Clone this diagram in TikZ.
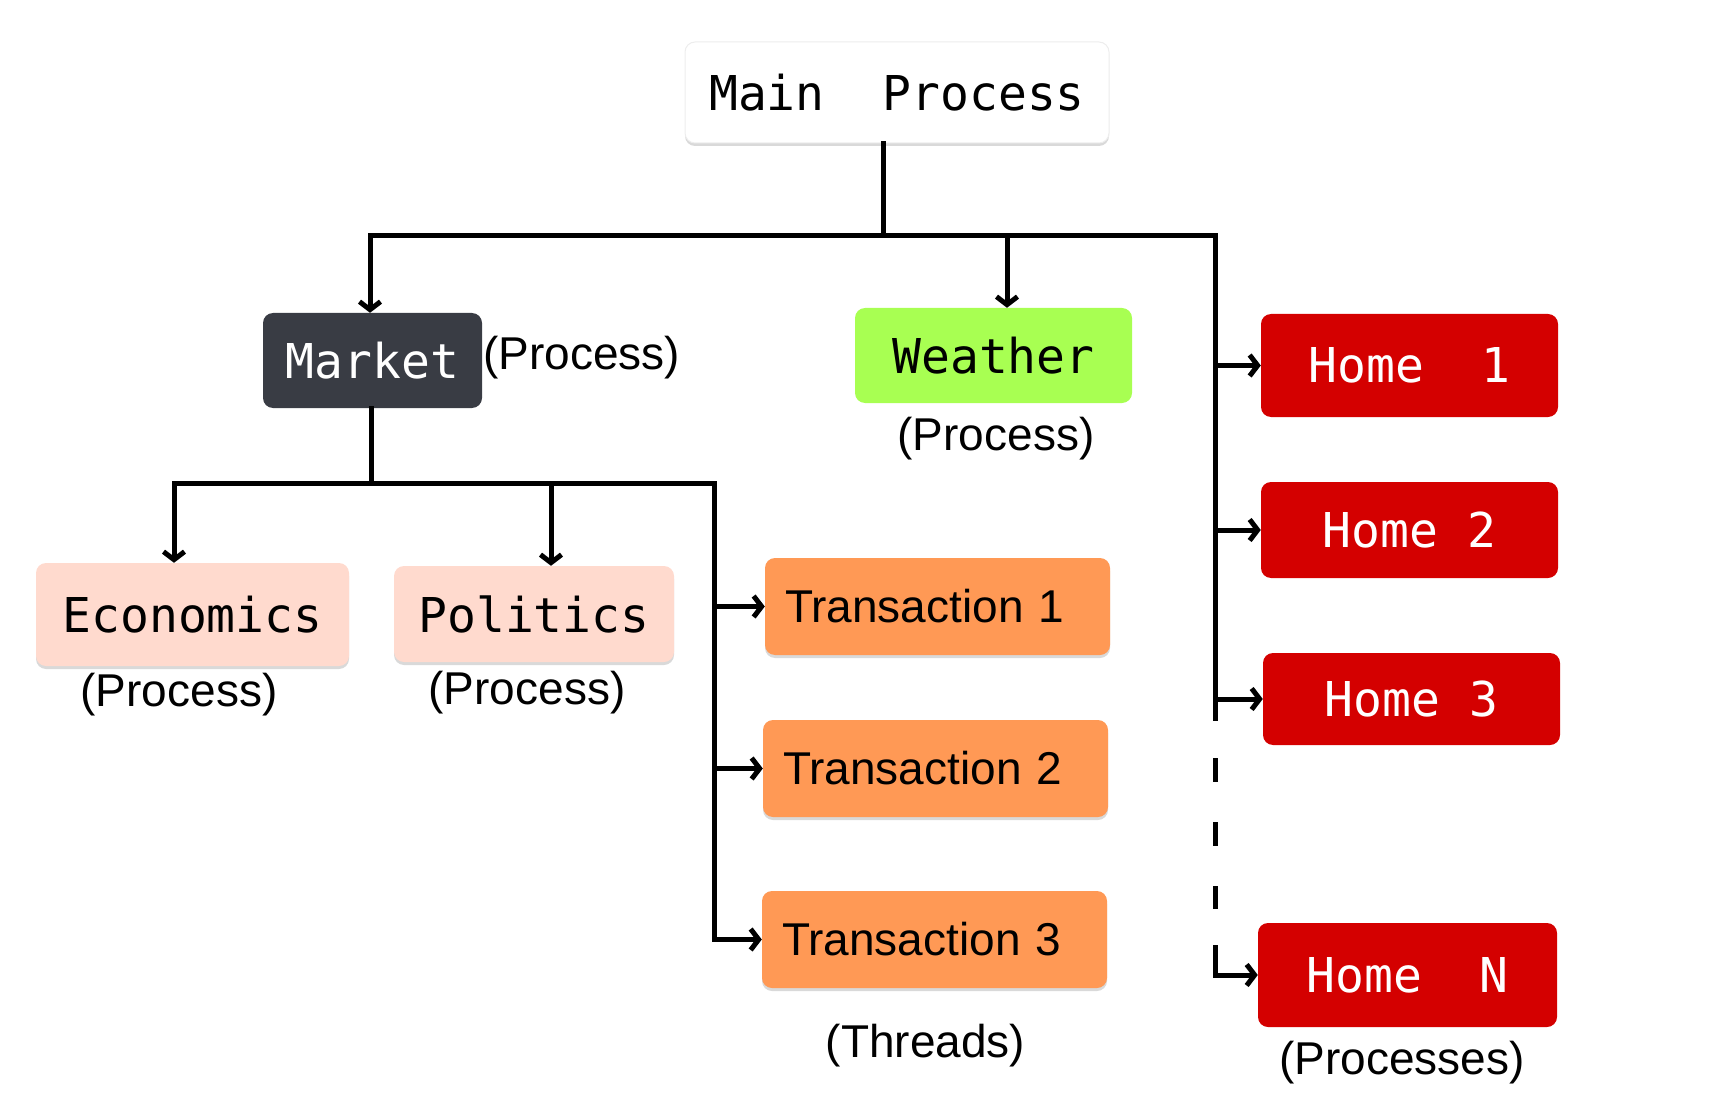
\documentclass[tikz,border=0pt]{standalone}
\usepackage{fontspec}
\setmainfont{Liberation Sans}
\setmonofont{DejaVu Sans Mono}
\usetikzlibrary{arrows.meta,shadows}
\definecolor{marketgray}{HTML}{393C44}
\definecolor{weathergreen}{HTML}{A8FF52}
\definecolor{homered}{HTML}{D40000}
\definecolor{topicpink}{HTML}{FFDACE}
\definecolor{threadorange}{HTML}{FF9955}
\tikzset{
  box/.style={rounded corners=10pt, inner sep=0pt, font=\ttfamily\fontsize{48}{58}\selectfont},
  tbox/.style={box, shade, fill=threadorange, font=\fontsize{46}{56}\selectfont,
    text width=305pt, inner xsep=20pt, align=left, minimum height=97pt},
  shade/.style={drop shadow={shadow xshift=0pt, shadow yshift=-3pt, opacity=0.25, fill=black!60}},
  lbl/.style={inner sep=0pt, font=\fontsize{46}{56}\selectfont},
  bus/.style={line width=5pt, line cap=rect},
  arr/.style={bus, -{Straight Barb[length=8pt,width=21pt]}},
}

\begin{document}
\begin{tikzpicture}[x=1pt,y=-1pt]
\useasboundingbox (0,0) rectangle (1711,1099);
%
\node[box, shade, fill=white, draw=black!7, line width=1pt, minimum width=424pt, minimum height=101pt] (main) at (897,92.5) {Main\ \ Process};
\node[box, fill=marketgray, text=white, minimum width=219pt, minimum height=95pt] (market) at (372.5,360.5) {Market};
\node[box, fill=weathergreen, minimum width=277pt, minimum height=95pt] (weather) at (993.5,355.5) {Weather};
%
\node[box, fill=homered, text=white, minimum width=297pt, minimum height=103pt] (home1) at (1409.5,365.5) {Home\ \ 1};
\node[box, fill=homered, text=white, minimum width=297pt, minimum height=96pt] (home2) at (1409.5,530) {Home 2};
\node[box, fill=homered, text=white, minimum width=297pt, minimum height=92pt] (home3) at (1411.5,699) {Home 3};
\node[box, fill=homered, text=white, minimum width=299pt, minimum height=104pt] (homeN) at (1407.5,975) {Home\ \ N};
%
\node[box, shade, fill=topicpink, minimum width=313pt, minimum height=103pt] (econ) at (192.5,614.5) {Economics};
\node[box, shade, fill=topicpink, minimum width=280pt, minimum height=96pt] (politics) at (534,614) {Politics};
%
\node[tbox] (trans1) at (937.5,606.5) {Transaction 1};
\node[tbox] (trans2) at (935.5,768.5) {Transaction 2};
\node[tbox] (trans3) at (934.5,939.5) {Transaction 3};
%
\node[lbl, anchor=west] (marketlbl) at (483,358) {(Process)};
\node[lbl] (weatherlbl) at (996,439) {(Process)};
\node[lbl] (econlbl) at (179,695) {(Process)};
\node[lbl] (politicslbl) at (527,693) {(Process)};
\node[lbl] (threadslbl) at (925.5,1046) {(Threads)};
\node[lbl] (homelbl) at (1402,1063) {(Processes)};
%
\coordinate (top) at (883.5,236);
\coordinate (lft) at (370,236);
\coordinate (wj) at (1007,236);
\coordinate (rgt) at (1215,236);
\draw[bus] (main.south -| top) -- (top);
\draw[arr] (rgt) -- (lft) -- (lft |- market.north);
\draw[arr] (wj) -- (wj |- weather.north);
%
\coordinate (gap) at (1215,718);
\coordinate (last) at (1215,947);
\draw[bus] (rgt) -- (gap);
\draw[bus, dash pattern=on 19pt off 45pt] (1215,760) -- (1215,906);
\draw[arr] (last) |- (homeN.west);
\foreach \h in {home1,home2,home3}
  \draw[arr] (rgt |- \h.west) -- (\h.west);
%
\coordinate (mj) at (371,483);
\coordinate (ej) at (174,483);
\coordinate (pj) at (551,483);
\coordinate (tj) at (714,483);
\draw[bus] (market.south -| mj) -- (mj);
\draw[arr] (tj) -- (ej) -- (ej |- econ.north);
\draw[arr] (pj) -- (pj |- politics.north);
\draw[arr] (tj) |- (trans3.west);
\foreach \t in {trans1,trans2}
  \draw[arr] (tj |- \t.west) -- (\t.west);
\end{tikzpicture}
\end{document}
